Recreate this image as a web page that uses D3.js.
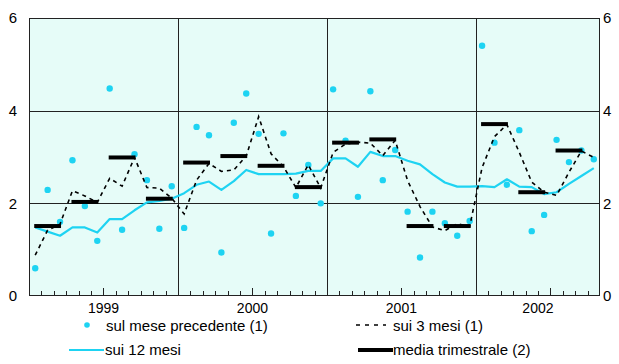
<!DOCTYPE html>
<html>
<head>
<meta charset="utf-8">
<script src="https://cdn.jsdelivr.net/npm/d3@7"></script>
<style>
  html, body { margin: 0; padding: 0; background: #ffffff; }
  svg { display: block; }
  text { font-family: "Liberation Sans", Arial, sans-serif; fill: #000; }
</style>
</head>
<body>
<svg id="chart" width="619" height="364"></svg>
<script>
// ---- data ----
const years = ["1999", "2000", "2001", "2002"];
const monthsPerYear = [12, 12, 12, 10];
const yTicks = [0, 2, 4, 6];

// monthly change on previous month (dots)
const sulMesePrecedente = [
  0.60, 2.29, 1.60, 2.93, 1.94, 1.19, 4.48, 1.43, 3.06, 2.50, 1.45, 2.37,
  1.47, 3.65, 3.47, 0.94, 3.74, 4.37, 3.50, 1.35, 3.51, 2.16, 2.83, 2.00,
  4.46, 3.35, 2.14, 4.42, 2.50, 3.15, 1.82, 0.83, 1.82, 1.57, 1.30, 1.62,
  5.40, 3.31, 2.40, 3.58, 1.40, 1.75, 3.37, 2.89, 3.14, 2.95
];
// 3-month change (dashed)
const sui3Mesi = [
  0.88, 1.42, 1.55, 2.27, 2.16, 2.02, 2.54, 2.37, 2.99, 2.34, 2.33, 2.11,
  1.77, 2.50, 2.86, 2.69, 2.72, 3.02, 3.87, 3.07, 2.79, 2.34, 2.83, 2.33,
  3.10, 3.28, 3.32, 3.30, 3.03, 3.36, 2.49, 1.93, 1.49, 1.41, 1.56, 1.50,
  2.77, 3.44, 3.70, 3.10, 2.46, 2.24, 2.17, 2.67, 3.13, 2.99
];
// 12-month change (cyan line)
const sui12Mesi = [
  1.48, 1.39, 1.30, 1.48, 1.48, 1.37, 1.66, 1.66, 1.85, 2.02, 2.05, 2.10,
  2.22, 2.40, 2.47, 2.29, 2.48, 2.72, 2.63, 2.63, 2.63, 2.64, 2.70, 2.70,
  2.97, 2.97, 2.79, 3.11, 3.02, 3.02, 2.92, 2.84, 2.63, 2.45, 2.36, 2.36,
  2.37, 2.35, 2.52, 2.36, 2.35, 2.20, 2.24, 2.42, 2.59, 2.76
];
// quarterly average (thick black bars), one per quarter
const mediaTrimestrale = [
  1.51, 2.03, 2.99, 2.10,
  2.88, 3.02, 2.81, 2.35,
  3.31, 3.38, 1.51, 1.51,
  3.71, 2.24, 3.14
];

const legendLabels = ["sul mese precedente (1)", "sui 3 mesi (1)", "sui 12 mesi", "media trimestrale (2)"];

// ---- chart ----
const CYAN = "#1ed3f2";
const svg = d3.select("#chart");
const nMonths = d3.sum(monthsPerYear);
const plotL = 29, plotR = 600, plotT = 18, plotB = 296;

const x = d3.scaleLinear().domain([0, nMonths]).range([plotL, plotR]);
const y = d3.scaleLinear().domain([0, 6]).range([plotB, plotT]);

// background
svg.append("rect")
  .attr("x", x(0)).attr("y", y(6))
  .attr("width", x(nMonths) - x(0)).attr("height", y(0) - y(6))
  .attr("fill", "#e6fcf8");

// horizontal grid
svg.append("g").selectAll("line").data([2, 4]).join("line")
  .attr("x1", x(0)).attr("x2", x(nMonths))
  .attr("y1", d => Math.round(y(d)) + 0.5).attr("y2", d => Math.round(y(d)) + 0.5)
  .attr("stroke", "#222").attr("stroke-width", 1);

// year boundaries
const yearStarts = [];
let acc = 0;
monthsPerYear.forEach(m => { yearStarts.push(acc); acc += m; });
svg.append("g").selectAll("line").data(yearStarts.slice(1)).join("line")
  .attr("x1", d => Math.round(x(d)) + 0.5).attr("x2", d => Math.round(x(d)) + 0.5)
  .attr("y1", y(6)).attr("y2", y(0))
  .attr("stroke", "#222").attr("stroke-width", 1);

// month ticks (inside, upward)
const monthBounds = d3.range(1, nMonths);
const midYear = yearStarts.map(s => s + 6);
svg.append("g").selectAll("line").data(monthBounds.filter(b => !yearStarts.includes(b))).join("line")
  .attr("x1", d => Math.round(x(d)) + 0.5).attr("x2", d => Math.round(x(d)) + 0.5)
  .attr("y1", y(0)).attr("y2", d => y(0) - (midYear.includes(d) ? 8 : 5))
  .attr("stroke", "#222").attr("stroke-width", 1);

// border
svg.append("rect")
  .attr("x", x(0) + 0.5).attr("y", y(6) + 0.5)
  .attr("width", x(nMonths) - x(0) - 1).attr("height", y(0) - y(6) - 1)
  .attr("fill", "none").attr("stroke", "#222").attr("stroke-width", 1);

// y labels left & right
svg.append("g").selectAll("text").data(yTicks).join("text")
  .attr("x", 17).attr("y", d => y(d)).attr("dy", "0.36em")
  .attr("text-anchor", "end").style("font-size", "15px").text(d => d);
svg.append("g").selectAll("text").data(yTicks).join("text")
  .attr("x", 603).attr("y", d => y(d)).attr("dy", "0.36em")
  .attr("text-anchor", "start").style("font-size", "15px").text(d => d);

// year labels
svg.append("g").selectAll("text").data(years).join("text")
  .attr("x", (d, i) => (x(yearStarts[i]) + x(yearStarts[i] + monthsPerYear[i])) / 2)
  .attr("y", 313)
  .attr("text-anchor", "middle").style("font-size", "14px").text(d => d);

const mc = i => x(i + 0.5);

// 12-month line
svg.append("path")
  .datum(sui12Mesi)
  .attr("d", d3.line().x((d, i) => mc(i)).y(d => y(d)))
  .attr("fill", "none").attr("stroke", CYAN).attr("stroke-width", 2.2)
  .attr("stroke-linejoin", "round");

// dots
svg.append("g").selectAll("circle").data(sulMesePrecedente).join("circle")
  .attr("cx", (d, i) => mc(i)).attr("cy", d => y(d)).attr("r", 3.2)
  .attr("fill", CYAN);

// quarterly bars
svg.append("g").selectAll("line").data(mediaTrimestrale).join("line")
  .attr("x1", (d, q) => mc(q * 3) - 1).attr("x2", (d, q) => mc(q * 3 + 2) + 1)
  .attr("y1", d => y(d)).attr("y2", d => y(d))
  .attr("stroke", "#000").attr("stroke-width", 4);

// 3-month dashed
svg.append("path")
  .datum(sui3Mesi)
  .attr("d", d3.line().x((d, i) => mc(i)).y(d => y(d)))
  .attr("fill", "none").attr("stroke", "#000").attr("stroke-width", 1.6)
  .attr("stroke-dasharray", "4,4");

// legend
const lg = svg.append("g").style("font-size", "15px");
lg.append("circle").attr("cx", 87).attr("cy", 325).attr("r", 2.8).attr("fill", CYAN);
lg.append("text").attr("x", 106).attr("y", 331).text(legendLabels[0]);
lg.append("line").attr("x1", 356).attr("x2", 386).attr("y1", 325).attr("y2", 325)
  .attr("stroke", "#000").attr("stroke-width", 1.6).attr("stroke-dasharray", "4,5");
lg.append("text").attr("x", 393).attr("y", 331).text(legendLabels[1]);
lg.append("line").attr("x1", 69).attr("x2", 104).attr("y1", 350).attr("y2", 350)
  .attr("stroke", CYAN).attr("stroke-width", 2.2);
lg.append("text").attr("x", 105).attr("y", 355).text(legendLabels[2]);
lg.append("line").attr("x1", 358).attr("x2", 393).attr("y1", 350).attr("y2", 350)
  .attr("stroke", "#000").attr("stroke-width", 4);
lg.append("text").attr("x", 393).attr("y", 355).text(legendLabels[3]);
</script>
</body>
</html>
